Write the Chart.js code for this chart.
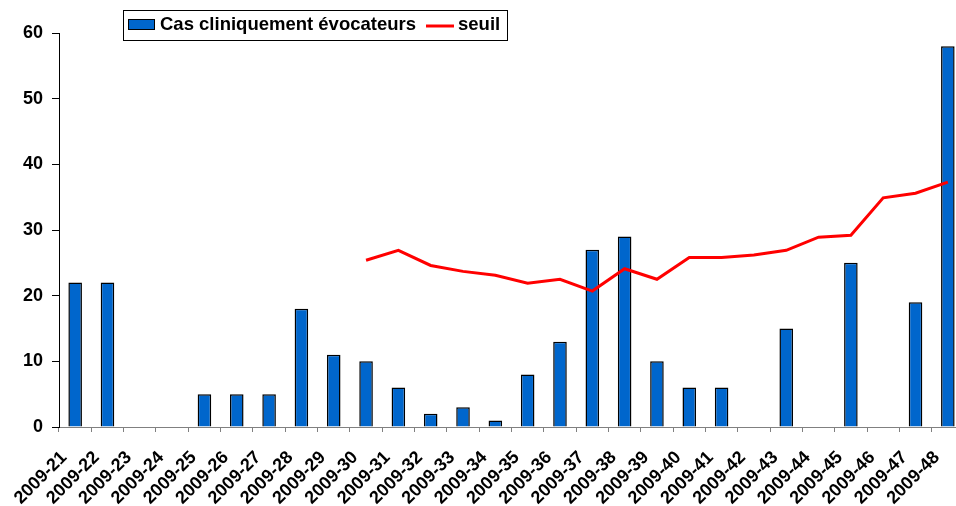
<!DOCTYPE html>
<html>
<head>
<meta charset="utf-8">
<script src="https://cdn.jsdelivr.net/npm/chart.js@4"></script>
<style>
  html, body { margin: 0; padding: 0; background: #fff; overflow: hidden; }
  #wrap { position: relative; width: 968px; height: 506px; }
</style>
</head>
<body>
<div id="wrap"><canvas id="myChart"></canvas></div>
<script>
const weeks = ['2009-21', '2009-22', '2009-23', '2009-24', '2009-25', '2009-26', '2009-27',
  '2009-28', '2009-29', '2009-30', '2009-31', '2009-32', '2009-33', '2009-34', '2009-35',
  '2009-36', '2009-37', '2009-38', '2009-39', '2009-40', '2009-41', '2009-42', '2009-43',
  '2009-44', '2009-45', '2009-46', '2009-47', '2009-48'];
const cas = [22, 22, 0, 0, 5, 5, 5, 18, 11, 10, 6, 2, 3, 1, 8, 13, 27, 29, 10, 6, 6, 0, 15, 0, 25, 0, 19, 58];
const seuil = [null, null, null, null, null, null, null, null, null,
  25.4, 26.9, 24.6, 23.7, 23.1, 21.9, 22.5, 20.7, 24.1, 22.5, 25.8, 25.8, 26.2, 26.9, 28.9, 29.2, 34.9, 35.6, 37.3];
const yTicks = [0, 10, 20, 30, 40, 50, 60];

const FONT = 'Liberation Sans, Arial, sans-serif';

// legend drawn by hand, Excel-style box
const legendBox = {
  id: 'legendBox',
  afterDraw(chart) {
    const ctx = chart.ctx;
    ctx.save();
    ctx.fillStyle = '#fff';
    ctx.fillRect(123, 10, 384, 30);
    ctx.strokeStyle = '#000';
    ctx.lineWidth = 1;
    ctx.strokeRect(123.5, 10.5, 384, 30);
    ctx.fillStyle = '#0066CC';
    ctx.fillRect(128, 19, 26, 10);
    ctx.strokeRect(128.5, 19.5, 26, 10);
    ctx.fillStyle = '#000';
    ctx.font = 'bold 18.5px ' + FONT;
    ctx.textBaseline = 'middle';
    ctx.fillText('Cas cliniquement évocateurs', 160, 25);
    ctx.strokeStyle = '#FF0000';
    ctx.lineWidth = 3;
    ctx.beginPath();
    ctx.moveTo(426, 26);
    ctx.lineTo(454, 26);
    ctx.stroke();
    ctx.fillText('seuil', 458, 25);
    ctx.restore();
  }
};

const config = {
  type: 'bar',
  data: {
    labels: weeks,
    datasets: [
      {
        type: 'line',
        label: 'seuil',
        data: seuil,
        borderColor: '#FF0000',
        borderWidth: 3,
        pointRadius: 0,
        tension: 0,
        spanGaps: false,
        order: 0
      },
      {
        label: 'Cas cliniquement évocateurs',
        data: cas,
        backgroundColor: '#0066CC',
        borderColor: '#000',
        borderWidth: 1.5,
        barPercentage: 0.42,
        categoryPercentage: 1,
        order: 1
      }
    ]
  },
  options: {
    responsive: true,
    maintainAspectRatio: false,
    animation: false,
    layout: {
      padding: { top: 33, right: 4, left: 0, bottom: 0 }
    },
    scales: {
      x: {
        offset: true,
        grid: {
          offset: true,
          drawOnChartArea: false,
          tickLength: 5,
          color: '#808080'
        },
        border: { color: '#808080', width: 1 },
        ticks: {
          autoSkip: false,
          maxRotation: 45,
          minRotation: 45,
          padding: 15,
          labelOffset: -11,
          color: '#000',
          font: { family: FONT, size: 18, weight: 'bold' }
        },
        afterFit(scale) {
          scale.height = 79;
          scale.paddingLeft = 0;
          scale.paddingRight = 0;
        }
      },
      y: {
        min: 0,
        max: 60,
        afterBuildTicks(scale) { scale.ticks = yTicks.map(v => ({ value: v })); },
        grid: {
          drawOnChartArea: false,
          tickLength: 7,
          color: '#000'
        },
        border: { color: '#000', width: 1 },
        ticks: {
          padding: 9,
          color: '#000',
          font: { family: FONT, size: 18, weight: 'bold' }
        },
        afterFit(scale) { scale.width = 59; }
      }
    },
    plugins: {
      legend: { display: false },
      tooltip: { enabled: false }
    }
  },
  plugins: [legendBox]
};

const myChart = new Chart(document.getElementById('myChart'), config);
</script>
</body>
</html>
